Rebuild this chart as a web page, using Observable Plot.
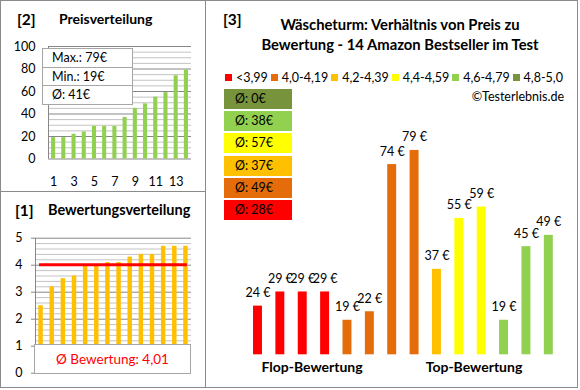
<!DOCTYPE html>
<html><head><meta charset="utf-8">
<script src="https://cdn.jsdelivr.net/npm/d3@7"></script>
<script src="https://cdn.jsdelivr.net/npm/@observablehq/plot@0.6"></script>
<style>
body{margin:0;background:#fff;font-family:Lato,sans-serif;color:#000;}
#root{position:relative;width:580px;height:390px;overflow:hidden;background:#fff;}
.abs{position:absolute;}
.ttl{font-weight:bold;font-size:14px;white-space:nowrap;}
.num{font-weight:bold;font-size:15.5px;white-space:nowrap;}
.line{position:absolute;background:#8a8a8a;}
svg{overflow:visible;}
</style></head><body><div id="root"></div>
<script>
// ---- data ----
const productPrices  = [24, 29, 29, 29, 19, 22, 74, 79, 37, 55, 59, 19, 45, 49]; // flop -> top order
const productRatings = [3.6, 3.2, 3.5, 2.5, 4.0, 4.1, 4.0, 4.1, 4.3, 4.4, 4.4, 4.7, 4.7, 4.7];
const bucketLabels = ["<3,99", "4,0-4,19", "4,2-4,39", "4,4-4,59", "4,6-4,79", "4,8-5,0"];
const bucketMins   = [0, 4.0, 4.2, 4.4, 4.6, 4.8];
const bucketColors = ["#FF0000", "#E46C0A", "#FFC000", "#FFFF00", "#92D050", "#77933C"];
const priceTicks  = [0, 20, 40, 60, 80, 100];
const indexTicks  = [1, 3, 5, 7, 9, 11, 13];
const ratingTicks = [0, 1, 2, 3, 4, 5];
const groupLabels = ["Flop-Bewertung", "Top-Bewertung"];

const root = document.getElementById("root");
function add(html, cls, css){const d=document.createElement("div");d.className="abs "+(cls||"");d.innerHTML=html;Object.assign(d.style,css);root.appendChild(d);return d;}
function place(svg, left, top){svg.style.position="absolute";svg.style.left=left+"px";svg.style.top=top+"px";root.appendChild(svg);}

const n = productPrices.length;
const half = 0.2;
const majorGrid = "#878787", minorGrid = "#c3c3c3";
const baseStyle = {fontFamily: "Lato", fontSize: "12.5px", color: "#000", background: "transparent", overflow: "visible"};

// ---- panel [2] Preisverteilung ----
const sortedPrices = [...productPrices].sort(d3.ascending).map((v, i) => ({id: i + 1, v}));
const p2 = Plot.plot({
  width: 205, height: 191,
  marginLeft: 48, marginRight: 14, marginTop: 46, marginBottom: 32.5,
  style: baseStyle,
  x: {domain: [0.5, n + 0.5]},
  y: {domain: [0, 100]},
  marks: [
    Plot.ruleY(d3.range(0, 101, 5).filter(v => v % 20), {stroke: minorGrid}),
    Plot.ruleY(priceTicks, {stroke: majorGrid}),
    Plot.rectY(sortedPrices, {x1: d => d.id - half, x2: d => d.id + half, y1: 0, y2: "v", fill: "#92D050"}),
    Plot.ruleX([0.5], {stroke: majorGrid}),
    Plot.axisY(priceTicks, {tickSize: 0, tickPadding: 13, label: null}),
    Plot.axisX(indexTicks, {tickSize: 0, tickPadding: 18, label: null})
  ]
});
place(p2, 0, 0);

// ---- panel [1] Bewertungsverteilung ----
const sortedRatings = [...productRatings].sort(d3.ascending).map((v, i) => ({id: i + 1, v}));
const avgRating = d3.mean(productRatings);
const p1 = Plot.plot({
  width: 205, height: 197,
  marginLeft: 35, marginRight: 14, marginTop: 46.7, marginBottom: 15.3,
  style: baseStyle,
  x: {domain: [0.5, n + 0.5], axis: null},
  y: {domain: [0, 5]},
  marks: [
    Plot.ruleY(d3.range(0, 5.01, 0.2).filter(v => Math.abs(v - Math.round(v)) > 0.01), {stroke: minorGrid}),
    Plot.ruleY(ratingTicks, {stroke: majorGrid}),
    Plot.rectY(sortedRatings, {x1: d => d.id - half, x2: d => d.id + half, y1: 0, y2: "v", fill: "#FFC000"}),
    Plot.ruleY([avgRating], {x1: 1, x2: n, stroke: "#FF0000", strokeWidth: 3, strokeLinecap: "square"}),
    Plot.ruleX([0.5], {stroke: majorGrid}),
    Plot.axisY(ratingTicks, {tickSize: 4, tickPadding: 9, stroke: majorGrid, label: null})
  ]
});
place(p1, 0, 191);

// ---- panel [3] Preis vs Bewertung ----
const bucketOf = r => d3.bisectRight(bucketMins, r) - 1;
const products = productPrices.map((p, i) => ({id: i + 1, price: p, rating: productRatings[i], bucket: bucketOf(productRatings[i])}));
const priceAxisMin = 6.8;
const p3 = Plot.plot({
  width: 373, height: 288,
  marginLeft: 41.3, marginRight: 18.5, marginTop: 18.8, marginBottom: 33.7,
  style: baseStyle,
  x: {domain: [0.5, n + 0.5], axis: null},
  y: {domain: [priceAxisMin, 90], axis: null},
  color: {type: "ordinal", domain: d3.range(bucketLabels.length), range: bucketColors},
  marks: [
    Plot.rectY(products, {x1: d => d.id - half, x2: d => d.id + half, y1: priceAxisMin, y2: "price", fill: "bucket"}),
    Plot.text(products, {x: "id", y: "price", text: d => d.price + " €", dy: -13, fill: "#000"})
  ]
});
place(p3, 205, 100);

// ---- frame and dividers ----
add("", "", {left: "0px", top: "0px", width: "576px", height: "386px", border: "1px solid #8a8a8a"});
add("", "line", {left: "205px", top: "0px", width: "1px", height: "388px"});
add("", "line", {left: "0px", top: "191px", width: "205px", height: "1px"});

// ---- titles ----
add("[2]", "num", {left: "17px", top: "10px"});
add("Preisverteilung", "ttl", {left: "59px", top: "10px"});
add("[1]", "num", {left: "15px", top: "201px"});
add("Bewertungsverteilung", "ttl", {left: "48px", top: "201px", fontSize: "14.5px"});
add("[3]", "num", {left: "223px", top: "10px"});
add("Wäscheturm: Verhältnis von Preis zu<br>Bewertung - 14 Amazon Bestseller im Test", "ttl",
    {left: "240px", top: "14px", width: "320px", textAlign: "center", lineHeight: "20px", fontSize: "14.8px"});

// ---- stats box panel [2] ----
const stats = [["Max.: ", d3.max(productPrices)], ["Min.: ", d3.min(productPrices)], ["Ø: ", Math.round(d3.mean(productPrices))]];
const sb = add("", "", {left: "42px", top: "48px", width: "89px", background: "#fff", border: "1px solid #a6a6a6", fontSize: "12.5px"});
stats.forEach(([k, v], i) => {
  const r = document.createElement("div");
  r.textContent = k + v + "€";
  Object.assign(r.style, {height: "17.5px", lineHeight: "17.5px", paddingLeft: "9px", borderTop: i ? "1px solid #a6a6a6" : "none"});
  sb.appendChild(r);
});

// ---- rating box panel [1] ----
add("Ø Bewertung: " + avgRating.toFixed(2).replace(".", ","), "",
    {left: "34px", top: "344px", width: "155px", height: "28px", lineHeight: "28px", background: "#fff",
     border: "1px solid #a6a6a6", color: "#FF0000", fontSize: "13.5px", textAlign: "center"});

// ---- legend panel [3] ----
const lg = add("", "", {left: "225px", top: "70px", width: "338px", display: "flex", justifyContent: "space-between",
                        fontSize: "12.5px", whiteSpace: "nowrap", alignItems: "center"});
bucketLabels.forEach((l, i) => {
  const it = document.createElement("span");
  it.style.display = "flex"; it.style.alignItems = "center"; it.style.gap = "4px";
  it.innerHTML = `<span style="display:inline-block;width:7px;height:7px;background:${bucketColors[i]}"></span>${l}`;
  lg.appendChild(it);
});
add("©Testerlebnis.de", "", {right: "16px", top: "89px", fontSize: "12.5px"});

// ---- average per bucket boxes ----
const avgs = bucketLabels.map((l, i) => {
  const g = products.filter(d => d.bucket === i);
  return g.length ? Math.round(d3.mean(g, d => d.price)) : 0;
});
d3.range(bucketLabels.length - 1, -1, -1).forEach((b, k) => {
  add("Ø: " + avgs[b] + "€", "", {left: "224px", top: (89 + k * 22.2) + "px", width: "57px", height: "20px",
      lineHeight: "20px", paddingLeft: "11px", background: bucketColors[b], fontSize: "12.5px"});
});

// ---- group labels ----
add(groupLabels[0], "ttl", {left: "252px", top: "358px", width: "120px", textAlign: "center"});
add(groupLabels[1], "ttl", {left: "414px", top: "358px", width: "120px", textAlign: "center"});
</script></body></html>
